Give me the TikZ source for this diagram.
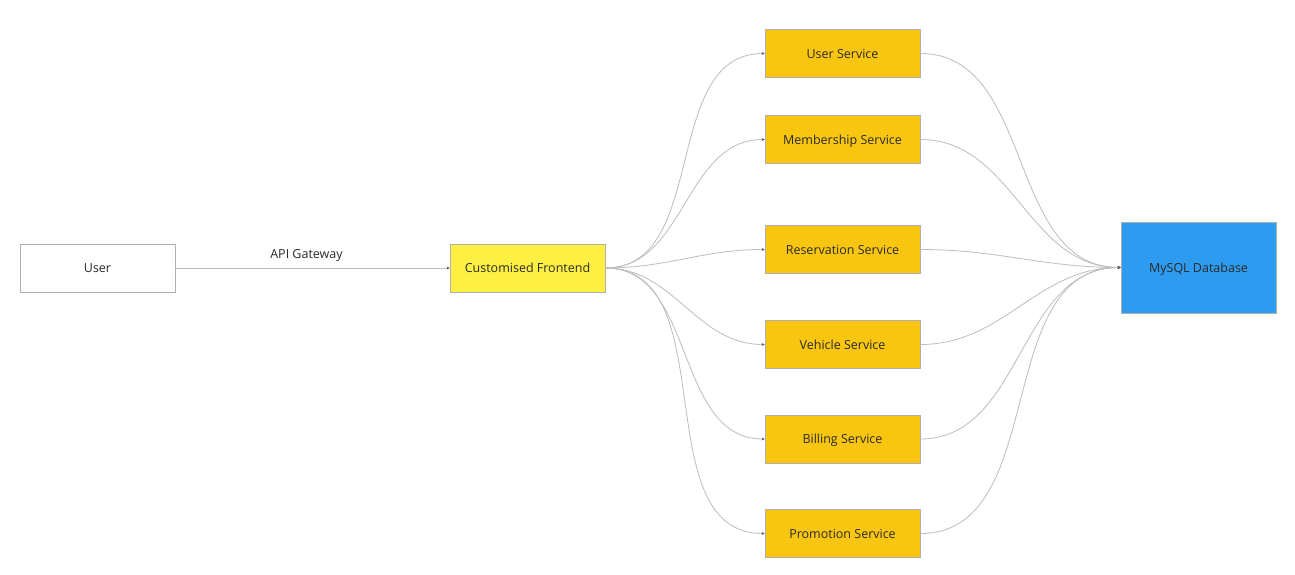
\documentclass[tikz,border=0pt]{standalone}
\usepackage{fontspec}
\setmainfont{Open Sans}
\usetikzlibrary{arrows.meta}
\definecolor{txt}{HTML}{2A2A2A}
\definecolor{bordergray}{HTML}{B0B0B0}
\definecolor{feyellow}{HTML}{FDF043}
\definecolor{svcyellow}{HTML}{F8C611}
\definecolor{dbblue}{HTML}{2D9BEF}
\definecolor{linegray}{HTML}{BDBDBD}
\tikzset{
  boxbase/.style={draw=bordergray, line width=0.8pt, minimum width=155pt, minimum height=48pt,
    text=txt, font=\fontsize{12.5}{15}\selectfont, inner sep=0pt, text depth=0pt},
  userbox/.style={boxbase, fill=white},
  febox/.style={boxbase, fill=feyellow},
  svcbox/.style={boxbase, fill=svcyellow},
  dbbox/.style={boxbase, fill=dbblue, minimum height=91pt},
  conn/.style={draw=linegray, line width=0.8pt, -{Stealth[length=3pt,width=3pt,color=txt!80]}},
  curved/.style={conn, out=0, in=180}
}
\begin{document}
\begin{tikzpicture}[x=1pt,y=-1pt]
\useasboundingbox[fill=white] (0,0) rectangle (1295,575);
\node[userbox] (user) at (97.5,268) {User};
\node[febox] (fe) at (527.5,268) {Customised Frontend};
\node[svcbox] (us) at (842.5,53.5) {User Service};
\node[svcbox] (ms) at (842.5,139.5) {Membership Service};
\node[svcbox] (rs) at (842.5,249.5) {Reservation Service};
\node[svcbox] (vs) at (842.5,344.5) {Vehicle Service};
\node[svcbox] (bs) at (842.5,439) {Billing Service};
\node[svcbox] (ps) at (842.5,533.5) {Promotion Service};
\node[dbbox] (db) at (1198.5,267.5) {MySQL Database};

\draw[conn] (user.east) -- node[above=3pt, xshift=-6pt, text=txt, font=\fontsize{12.5}{15}\selectfont] (gw) {API Gateway} (fe.west);

\foreach \s in {us,ms,rs,vs,bs,ps}{
  \draw[curved] (fe.east) to (\s.west);
  \draw[curved] (\s.east) to (db.west);
}
\end{tikzpicture}
\end{document}
